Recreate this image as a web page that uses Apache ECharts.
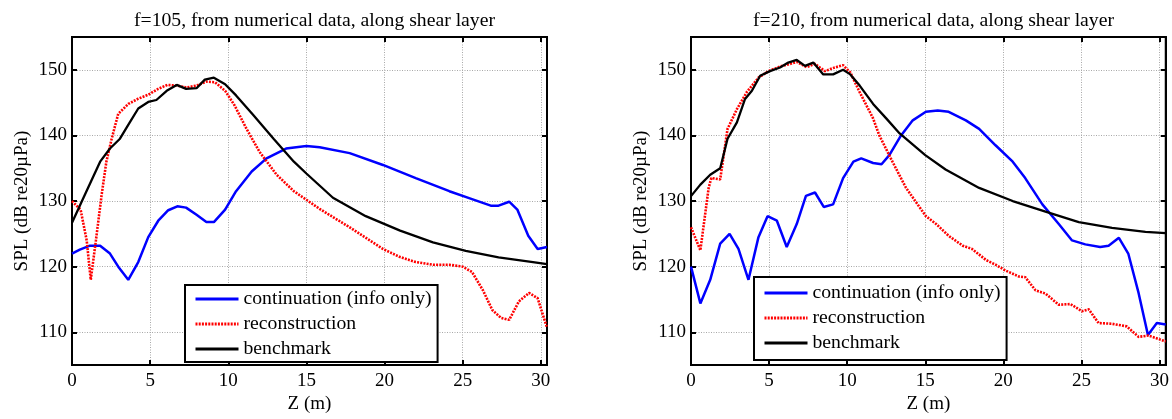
<!DOCTYPE html>
<html>
<head>
<meta charset="utf-8">
<script src="https://cdn.jsdelivr.net/npm/echarts@6/dist/echarts.min.js"></script>
<style>
html,body{margin:0;padding:0;background:#fff;}
#chart{width:1172px;height:419px;}
</style>
</head>
<body>
<div id="chart"></div>
<script>
// ---- data (Z in m, SPL in dB) ----
const titles = ['f=105, from numerical data, along shear layer', 'f=210, from numerical data, along shear layer'];
const seriesNames = ['continuation (info only)', 'reconstruction', 'benchmark'];
const xLabel = 'Z (m)';
const yLabel = 'SPL (dB re20\u00b5Pa)';

const f105_continuation = [[0,122.0],[0.5,122.6],[1.15,123.2],[1.8,123.2],[2.43,122],[2.96,120],[3.6,118.0],[4.24,120.7],[4.88,124.5],[5.52,127],[6.16,128.6],[6.74,129.2],[7.3,129],[7.97,127.9],[8.6,126.8],[9.08,126.8],[9.8,128.7],[10.5,131.5],[11.5,134.5],[12.45,136.5],[13.7,138],[15,138.4],[15.85,138.2],[17.77,137.3],[19.9,135.5],[22.0,133.5],[24.15,131.5],[25.6,130.3],[26.8,129.3],[27.3,129.3],[27.98,129.9],[28.5,128.7],[29.2,124.7],[29.8,122.7],[30.4,123]];
const f105_reconstruction = [[0,130],[0.55,128.7],[0.94,124],[1.2,118],[1.53,124],[1.9,131],[2.2,136],[2.54,139.5],[2.96,143.3],[3.6,144.8],[4.24,145.6],[4.88,146.2],[5.52,147.1],[6.1,147.7],[6.7,147.6],[7.33,147.3],[7.97,147.6],[8.6,148.2],[9.15,148.1],[9.8,146.8],[10.4,144.6],[11.17,141],[12.0,137.5],[13.1,134],[14.2,131.5],[15,130.2],[15.85,128.8],[17.77,126],[19.9,122.7],[20.96,121.5],[22,120.7],[23.1,120.3],[24.15,120.3],[25,120],[25.6,119.2],[26.3,116.4],[26.9,113.4],[27.45,112.2],[27.98,111.9],[28.6,114.7],[29.25,116],[29.8,115.2],[30.4,110.7]];
const f105_benchmark = [[0,126.7],[0.83,131],[1.8,136],[2.43,138],[3.07,139.5],[3.6,141.6],[4.24,144.1],[4.88,145.1],[5.4,145.4],[6.06,146.8],[6.7,147.7],[7.3,147.1],[7.97,147.2],[8.5,148.5],[9.08,148.8],[9.8,147.8],[10.5,146.1],[11.6,143.1],[12.9,139.5],[14.2,136],[15.0,134.2],[16.7,130.5],[18.8,127.7],[21,125.5],[23.1,123.7],[25.2,122.4],[27.3,121.4],[29.5,120.7],[30.4,120.4]];

const f210_continuation = [[0,120],[0.6,114.4],[1.23,118],[1.87,123.5],[2.47,125],[3.04,122.7],[3.68,118],[4.32,124.5],[4.9,127.7],[5.5,127],[6.13,123],[6.77,126.5],[7.36,130.8],[7.94,131.3],[8.5,129.1],[9.1,129.5],[9.74,133.5],[10.4,136],[10.9,136.5],[11.66,135.8],[12.2,135.6],[12.7,137],[13.45,140],[14.2,142.3],[15.04,143.6],[15.8,143.8],[16.5,143.6],[17.6,142.3],[18.45,141],[19.5,138.5],[20.6,136],[21.4,133.5],[22.5,129.5],[23.55,126.5],[24.4,124],[25.25,123.4],[26.2,123],[26.74,123.2],[27.4,124.4],[28.0,122],[28.66,116],[29.26,109.6],[29.83,111.4],[30.4,111.2]];
const f210_reconstruction = [[0,126],[0.6,122.5],[1.13,132],[1.3,133.5],[1.87,133.3],[2.34,141],[2.94,144],[3.57,146.6],[4.32,148.8],[4.96,149.8],[5.7,150.5],[6.34,150.9],[6.77,151.2],[7.4,150.4],[7.94,150.9],[8.57,149.8],[9.2,150.35],[9.74,150.7],[10.2,149.6],[10.8,146.6],[11.66,142.6],[12.06,140],[12.9,136],[13.77,132],[15.04,127.7],[15.7,126.5],[16.5,124.7],[17.4,123.2],[18,122.7],[18.9,121],[19.5,120.3],[20.15,119.4],[21,118.5],[21.4,118.4],[22.06,116.4],[22.7,115.9],[23.55,114.2],[24.3,114.3],[25.04,113.2],[25.47,113.5],[26.1,111.4],[26.96,111.3],[27.9,110.9],[28.66,109.3],[29.3,109.5],[30.4,108.6]];
const f210_benchmark = [[0,130.75],[0.6,132.5],[1.23,134],[1.87,135],[2.34,139.5],[2.94,142],[3.45,145.5],[3.9,146.8],[4.43,149.1],[5.06,149.8],[5.7,150.35],[6.23,151.1],[6.77,151.5],[7.3,150.6],[7.83,151.1],[8.47,149.3],[9.1,149.3],[9.74,150],[10.2,149.3],[10.8,147.6],[11.66,144.8],[12.5,142.6],[13.36,140.3],[15,137],[16.3,134.8],[18.45,132],[20.6,130],[22.7,128.4],[24.83,126.8],[26.96,125.9],[29.1,125.3],[30.4,125.1]];

const panels = [
  [f105_continuation, f105_reconstruction, f105_benchmark],
  [f210_continuation, f210_reconstruction, f210_benchmark]
];

// ---- layout / style ----
const FONT = 'Liberation Serif';
const FS = 19;
const FS_BIG = 19.7;
const grids = [
  {left: 72, top: 37, width: 475, height: 332},
  {left: 691, top: 37, width: 475, height: 332}
];
const legendPos = [
  {left: 185, top: 285, padding: [4, 6, 3, 9]},
  {left: 754, top: 277, padding: [6, 6, 7, 9]}
];
const X_MIN = 0, X_MAX = 30.4, Y_MIN = 105, Y_MAX = 155;

const lineStyles = [
  {color: '#0000ff', width: 2.5, type: 'solid'},
  {color: '#ff0000', width: 2.6, type: [2, 1.2]},
  {color: '#000000', width: 2.3, type: 'solid'}
];

const grid = grids.map(g => Object.assign({show: true, borderColor: '#000', borderWidth: 2, backgroundColor: '#fff', z: 0}, g));

const xAxis = [], yAxis = [], series = [], legend = [], title = [];
grids.forEach((g, i) => {
  const baseX = {
    type: 'value', gridIndex: i, min: X_MIN, max: X_MAX, minInterval: 5, maxInterval: 5,
    axisLine: {show: true, onZero: false, lineStyle: {color: '#000', width: 2}},
    axisTick: {show: true, inside: true, length: 5, lineStyle: {color: '#000', width: 2}},
    splitLine: {show: false}
  };
  xAxis.push(Object.assign({}, baseX, {
    position: 'bottom', name: xLabel, nameLocation: 'middle', nameGap: 28,
    nameTextStyle: {fontFamily: FONT, fontSize: FS, color: '#000'},
    axisLabel: {show: true, margin: 6, fontFamily: FONT, fontSize: FS, color: '#000',
      formatter: v => (Math.abs(v % 5) < 1e-9 ? String(v) : '')},
    splitLine: {show: true, lineStyle: {color: '#a8a8a8', width: 1, type: [1, 1.5]}}
  }));
  xAxis.push(Object.assign({}, baseX, {position: 'top', axisLabel: {show: false}}));

  const baseY = {
    type: 'value', gridIndex: i, min: Y_MIN, max: Y_MAX, minInterval: 10, maxInterval: 10,
    axisLine: {show: true, onZero: false, lineStyle: {color: '#000', width: 2}},
    axisTick: {show: true, inside: true, length: 5, lineStyle: {color: '#000', width: 2}},
    splitLine: {show: false}
  };
  yAxis.push(Object.assign({}, baseY, {
    position: 'left', name: yLabel, nameLocation: 'middle', nameGap: 40, nameRotate: 90,
    nameTextStyle: {fontFamily: FONT, fontSize: FS, color: '#000'},
    axisLabel: {show: true, margin: 5, fontFamily: FONT, fontSize: FS, color: '#000',
      formatter: v => (Math.abs(v % 10) < 1e-9 ? String(v) : '')},
    splitLine: {show: true, lineStyle: {color: '#a8a8a8', width: 1, type: [1, 1.5]}}
  }));
  yAxis.push(Object.assign({}, baseY, {position: 'right', axisLabel: {show: false}}));

  panels[i].forEach((data, k) => {
    series.push({
      type: 'line', name: seriesNames[k], xAxisIndex: i * 2, yAxisIndex: i * 2,
      data: data, showSymbol: false, symbol: 'none', smooth: false, clip: true,
      lineStyle: lineStyles[k], itemStyle: {color: lineStyles[k].color},
      animation: false, z: 3 + (k === 2 ? 1 : 0)
    });
  });

  legend.push({
    show: true, orient: 'vertical',
    data: seriesNames.map((n, k) => ({name: n, itemStyle: {opacity: 0}, lineStyle: Object.assign({}, lineStyles[k], {width: 3})})),
    left: legendPos[i].left, top: legendPos[i].top, padding: legendPos[i].padding,
    backgroundColor: '#fff', borderColor: '#000', borderWidth: 2, borderRadius: 0,
    itemWidth: 43, itemHeight: 14, itemGap: 5,
    selectedMode: false, z: 10,
    textStyle: {fontFamily: FONT, fontSize: FS_BIG, color: '#000', lineHeight: 20}
  });

  title.push({
    text: titles[i], left: g.left + g.width / 2, top: 6, textAlign: 'center',
    textStyle: {fontFamily: FONT, fontSize: FS_BIG, fontWeight: 'normal', color: '#000'}
  });
});

const chart = echarts.init(document.getElementById('chart'), null, {renderer: 'canvas'});
chart.setOption({
  backgroundColor: '#fff', animation: false,
  title, grid, xAxis, yAxis, series, legend
});
</script>
</body>
</html>
